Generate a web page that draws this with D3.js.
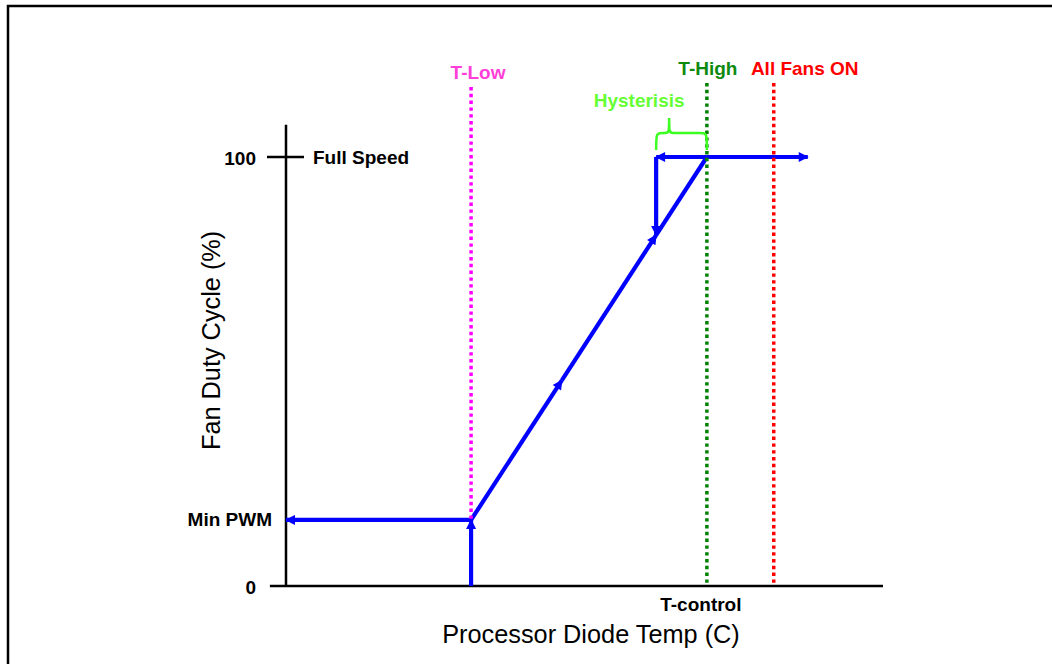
<!doctype html>
<head>
	<title>Fan control</title>
	<script src="https://d3js.org/d3.v7.min.js"></script>
	<style>
		body { margin: 0; background: #fff; }
		text { font-family: Arial, "Liberation Sans", sans-serif; }
	</style>
</head>
<body>
	<svg id="thechart" width="1052" height="664"></svg>
	<script>
		// temperatures are in arbitrary units along the x axis, duty cycle in %
		let tLow = 31.0, tHyst = 62.0, tHigh = 70.5, tAllOn = 81.7, tEnd = 87.4
		let tRampMid = 46.2
		let minPwm = 15.4, fullSpeed = 100
		let yTicks = [0, 100]
		let xAxisExtent = [-2.7, 100], yAxisExtent = [0, 107.5]

		// the control path, each leg is its own list of [temp, duty] points
		let rampLegs = [
			[[tLow, minPwm], [tRampMid, null]],
			[[tRampMid, null], [tHyst, null]],
			[[tHyst, null], [tHigh, fullSpeed]]
		]
		const rampAt = t => minPwm + (t - tLow) / (tHigh - tLow) * (fullSpeed - minPwm)
		rampLegs.forEach(leg => leg.forEach(p => { if (p[1] === null) p[1] = rampAt(p[0]) }))

		let startLeg = [[tLow, 0], [tLow, minPwm]]
		let minLeg = [[tLow, minPwm], [0, minPwm]]
		let topLeg = [[tHigh, fullSpeed], [tEnd, fullSpeed]]
		let backLeg = [[tHigh, fullSpeed], [tHyst, fullSpeed]]
		let dropLeg = [[tHyst, fullSpeed], [tHyst, rampAt(tHyst)]]

		let markers = [
			{name: "T-Low", t: tLow, color: "#ff00ff", text: "#ff3fd8", top: 87, bottom: minPwm, dx: 7, ty: 72},
			{name: "T-High", t: tHigh, color: "#008000", text: "#0e8a0e", top: 83, bottom: 0, dx: 1, ty: 68},
			{name: "All Fans ON", t: tAllOn, color: "#ff0000", text: "#ff0000", top: 83, bottom: 0, dx: 31, ty: 68}
		]

		const width = 1052, height = 664
		const svg = d3.select("#thechart")
		const x = d3.scaleLinear().domain([0, 100]).range([286, 883])
		const y = d3.scaleLinear().domain([0, 100]).range([586, 157])
		const line = d3.line().x(d => x(d[0])).y(d => y(d[1]))

		// frame
		svg.append("path").attr("d", `M8,${height} V6 H${width}`)
			.attr("fill", "none").attr("stroke", "#000").attr("stroke-width", 2.5)

		// arrow head
		svg.append("defs").append("marker")
			.attr("id", "arr").attr("viewBox", "0 -5 10 10")
			.attr("refX", 9).attr("refY", 0)
			.attr("markerUnits", "userSpaceOnUse")
			.attr("markerWidth", 12).attr("markerHeight", 10)
			.attr("orient", "auto")
			.append("path").attr("d", "M0,-5 L10,0 L0,5 Z").attr("fill", "#0000ff")

		// axes
		svg.append("line")
			.attr("x1", x(0)).attr("x2", x(0))
			.attr("y1", y(yAxisExtent[0])).attr("y2", y(yAxisExtent[1]))
			.attr("stroke", "#000").attr("stroke-width", 2.5)
		svg.append("line")
			.attr("x1", x(xAxisExtent[0])).attr("x2", x(xAxisExtent[1]))
			.attr("y1", y(0)).attr("y2", y(0))
			.attr("stroke", "#000").attr("stroke-width", 2.5)
		svg.append("line")
			.attr("x1", x(0) - 19).attr("x2", x(0) + 18)
			.attr("y1", y(fullSpeed)).attr("y2", y(fullSpeed))
			.attr("stroke", "#000").attr("stroke-width", 2.5)

		const bold = sel => sel.attr("font-size", 19).attr("font-weight", "bold")
			.attr("dominant-baseline", "central")

		svg.selectAll(".ytick").data(yTicks).join("text")
			.attr("x", x(0) - 30).attr("y", d => y(d) + 1)
			.attr("text-anchor", "end").text(d => d).call(bold)
		svg.append("text").attr("x", x(0) + 27).attr("y", y(fullSpeed))
			.text("Full Speed").call(bold)
		svg.append("text").attr("x", x(0) - 14).attr("y", y(minPwm))
			.attr("text-anchor", "end").text("Min PWM").call(bold)
		svg.append("text").attr("x", x(tHigh) - 6).attr("y", y(0) + 18)
			.attr("text-anchor", "middle").text("T-control").call(bold)

		// axis titles
		svg.append("text").attr("x", 591).attr("y", 634)
			.attr("text-anchor", "middle").attr("dominant-baseline", "central")
			.attr("font-size", 25.3).text("Processor Diode Temp (C)")
		svg.append("text").attr("transform", `translate(211,${(y(0) + y(yAxisExtent[1])) / 2 - 15}) rotate(-90)`)
			.attr("text-anchor", "middle").attr("dominant-baseline", "central")
			.attr("font-size", 25.3).text("Fan Duty Cycle (%)")

		// blue control path
		const blue = svg.append("g").attr("fill", "none").attr("stroke", "#0000ff")
			.attr("stroke-width", 4.2).attr("stroke-linejoin", "miter")
		;[startLeg, minLeg, ...rampLegs, topLeg, backLeg, dropLeg].forEach((leg, i) => {
			const p = blue.append("path").attr("d", line(leg))
			if (i !== 4) p.attr("marker-end", "url(#arr)")
		})

		// threshold lines
		svg.selectAll(".thr").data(markers).join("line")
			.attr("x1", d => x(d.t)).attr("x2", d => x(d.t))
			.attr("y1", d => d.top).attr("y2", d => y(d.bottom))
			.attr("stroke", d => d.color).attr("stroke-width", 3.5)
			.attr("stroke-dasharray", "3.4,3.4")
		svg.selectAll(".thrlab").data(markers).join("text")
			.attr("x", d => x(d.t) + d.dx).attr("y", d => d.ty)
			.attr("text-anchor", "middle").attr("fill", d => d.text)
			.text(d => d.name).call(bold)

		// hysteresis brace
		const bl = x(tHyst), br = x(tHigh), bb = y(fullSpeed) - 7, bt = bb - 17, tip = bl + 13
		svg.append("path")
			.attr("d", `M${bl},${bb} C${bl},${bt} ${bl},${bt} ${bl + 8},${bt}`
				+ ` L${tip - 4},${bt} C${tip},${bt} ${tip},${bt - 2} ${tip},${bt - 15}`
				+ ` C${tip},${bt - 2} ${tip},${bt} ${tip + 4},${bt}`
				+ ` L${br - 8},${bt} C${br},${bt} ${br},${bt} ${br},${bb}`)
			.attr("fill", "none").attr("stroke", "#3cff22").attr("stroke-width", 2.5)
		svg.append("text").attr("x", bl - 17).attr("y", 100)
			.attr("text-anchor", "middle").attr("fill", "#66ff33")
			.text("Hysterisis").call(bold)
	</script>
</body>
